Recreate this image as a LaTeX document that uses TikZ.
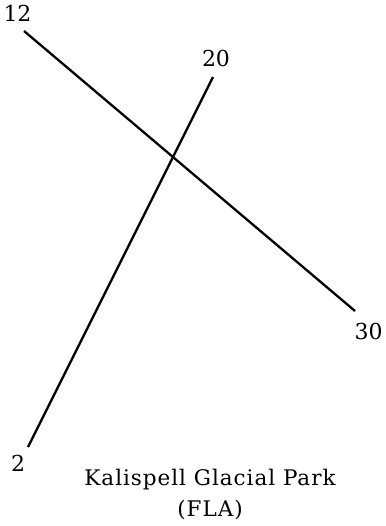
\documentclass[tikz,border=0pt]{standalone}
\usepackage{fontspec}
\setmainfont{DejaVu Serif}
\begin{document}
\begin{tikzpicture}[x=1pt,y=-1pt,
  lbl/.style={inner sep=0pt,anchor=base,font=\fontsize{22}{26}\selectfont},
  ln/.style={line width=2.3pt}]
\useasboundingbox (0,0) rectangle (385,526);
\coordinate (a1) at (24,31);
\coordinate (a2) at (355,311);
\coordinate (b1) at (213,77);
\coordinate (b2) at (28,447);
\node[lbl] (l12) at (17.5,22) {12};
\node[lbl] (l20) at (216,67) {20};
\node[lbl] (l30) at (368.5,339) {30};
\node[lbl] (l2) at (18,471) {2};
\node[lbl,font=\fontsize{21.5}{31}\selectfont\addfontfeature{LetterSpace=4.5},align=center] (cap) at (210,516) {Kalispell Glacial Park\\(FLA)};
\draw[ln] (a1) -- (a2);
\draw[ln] (b1) -- (b2);
\end{tikzpicture}
\end{document}
